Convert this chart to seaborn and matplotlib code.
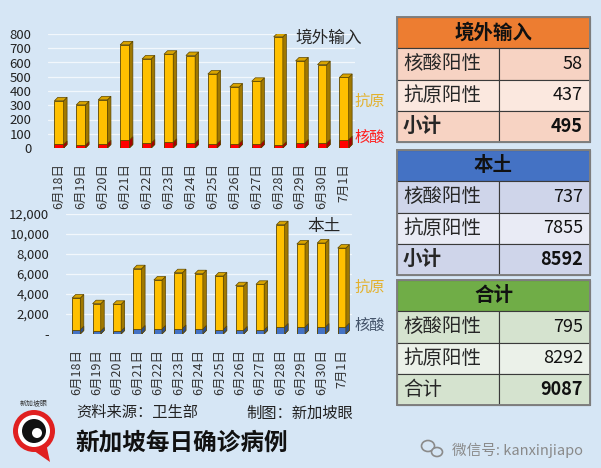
import numpy as np
import pandas as pd
import matplotlib.pyplot as plt
import seaborn as sns
from matplotlib.patches import Rectangle, Polygon, Circle, Ellipse

# =====================================================
# DATA
# =====================================================

dates = ["6月18日", "6月19日", "6月20日", "6月21日", "6月22日", "6月23日", "6月24日",
         "6月25日", "6月26日", "6月27日", "6月28日", "6月29日", "6月30日", "7月1日"]

# imported cases: total (antigen + PCR) and PCR part
import_total = [331, 303, 338, 724, 625, 658, 649, 519, 428, 468, 780, 611, 585, 495]
import_pcr = [25, 20, 30, 55, 35, 40, 35, 30, 30, 30, 20, 35, 35, 58]

# local cases
local_total = [3600, 3030, 2970, 6530, 5400, 6130, 6030, 5800, 4830, 4970, 10930, 9000, 9100, 8592]
local_pcr = [430, 300, 300, 500, 500, 550, 500, 450, 400, 400, 700, 700, 700, 737]

import_ticks = [0, 100, 200, 300, 400, 500, 600, 700, 800]
local_ticks = [0, 2000, 4000, 6000, 8000, 10000, 12000]
local_tick_labels = ["-", "2,000", "4,000", "6,000", "8,000", "10,000", "12,000"]

table_titles = ["境外输入", "本土", "合计"]
table_rows = [["核酸阳性", "抗原阳性", "小计"],
              ["核酸阳性", "抗原阳性", "小计"],
              ["核酸阳性", "抗原阳性", "合计"]]
import_table = [58, 437, 495]
local_table = [737, 7855, 8592]
total_table = [795, 8292, 9087]

# =====================================================
# STYLE
# =====================================================

sns.set_theme(style="white")
plt.rcParams["font.family"] = ["Noto Sans CJK SC", "DejaVu Sans"]

BG = "#d6e6f5"
W, H = 601, 468
fig = plt.figure(figsize=(W / 100, H / 100), dpi=100)
fig.patch.set_facecolor(BG)


def px_axes(left, top, right, bottom):
    return fig.add_axes([left / W, 1 - bottom / H, (right - left) / W, (bottom - top) / H])


def add_depth(ax, bars, side_color, top_color, edge, z, with_top=True, dpx=3.5):
    x0, x1 = ax.get_xlim()
    y0, y1 = ax.get_ylim()
    pos = ax.get_position()
    dx = (x1 - x0) * dpx / (pos.width * W)
    dy = (y1 - y0) * dpx / (pos.height * H)
    for p in bars:
        x, y, w, h = p.get_x(), p.get_y(), p.get_width(), p.get_height()
        ax.add_patch(Polygon([(x + w, y), (x + w + dx, y + dy), (x + w + dx, y + h + dy), (x + w, y + h)],
                             fc=side_color, ec=edge, lw=0.5, zorder=z))
        if with_top:
            ax.add_patch(Polygon([(x, y + h), (x + dx, y + h + dy), (x + w + dx, y + h + dy), (x + w, y + h)],
                                 fc=top_color, ec=edge, lw=0.5, zorder=z))


def bar_chart(ax, total, pcr, pcr_color, pcr_side, ticks, tick_labels, ylim, width):
    sns.barplot(x=dates, y=total, order=dates, color="#ffc000", saturation=1, width=width,
                edgecolor="#5c4600", linewidth=0.6, ax=ax, zorder=2)
    ybars = ax.containers[-1]
    sns.barplot(x=dates, y=pcr, order=dates, color=pcr_color, saturation=1, width=width,
                edgecolor="#5c4600", linewidth=0.6, ax=ax, zorder=4)
    pbars = ax.containers[-1]
    ax.set_xlim(-0.5, len(dates) - 0.5)
    ax.set_ylim(*ylim)
    add_depth(ax, ybars, "#a07800", "#d9a400", "#5c4600", 3)
    add_depth(ax, pbars, pcr_side, pcr_side, "#5c4600", 5, with_top=False)
    ax.set_facecolor("none")
    for s in ax.spines.values():
        s.set_visible(False)
    ax.set_yticks(ticks)
    ax.set_yticklabels(tick_labels, fontsize=9.5, color="#222222")
    ax.set_xticks(range(len(dates)))
    ax.set_xticklabels(dates, rotation=90, fontsize=9, color="#333333", va="top")
    ax.tick_params(axis="x", length=0, pad=11)
    ax.tick_params(axis="y", length=0)
    for t in ticks[1:]:
        ax.axhline(t, color="white", lw=0.9, alpha=0.7, zorder=1)
    ax.set_xlabel("")
    ax.set_ylabel("")


# =====================================================
# CHARTS
# =====================================================

ax1 = px_axes(48, 34, 355, 148)
bar_chart(ax1, import_total, import_pcr, "#ff0000", "#a80000",
          import_ticks, [str(t) for t in import_ticks], (0, 800), 0.42)
ax1.tick_params(axis="y", pad=12)

ax2 = px_axes(66, 214, 352, 334)
bar_chart(ax2, local_total, local_pcr, "#4472c4", "#2c4d8a",
          local_ticks, local_tick_labels, (0, 12000), 0.4)
ax2.tick_params(axis="y", pad=12)

# =====================================================
# OVERLAY: labels, tables, footer
# =====================================================

ov = fig.add_axes([0, 0, 1, 1])
ov.set_xlim(0, W)
ov.set_ylim(H, 0)
ov.axis("off")
ov.set_facecolor("none")

ov.text(329, 38, "境外输入", fontsize=12, color="#262626", ha="center", va="center")
ov.text(370, 101, "抗原", fontsize=11, color="#e3b12c", ha="center", va="center")
ov.text(370, 137, "核酸", fontsize=11, color="#ff2020", ha="center", va="center")
ov.text(324, 226, "本土", fontsize=12, color="#262626", ha="center", va="center")
ov.text(370, 287, "抗原", fontsize=11, color="#e3b12c", ha="center", va="center")
ov.text(370, 325, "核酸", fontsize=11, color="#44546a", ha="center", va="center")

# tables
tables = [
    (table_titles[0], table_rows[0], import_table, 17, "#ed7d31", ["#f7d3c3", "#fbe8df", "#f7d3c3"]),
    (table_titles[1], table_rows[1], local_table, 150, "#4472c4", ["#cfd5ea", "#e9ebf5", "#cfd5ea"]),
    (table_titles[2], table_rows[2], total_table, 280, "#70ad47", ["#d5e3cf", "#ebf1e9", "#d5e3cf"]),
]
tx0, tsplit, tx1 = 397, 499, 590
row_h = 31.3
for title, labels, values, top, head_color, row_colors in tables:
    ov.add_patch(Rectangle((tx0, top), tx1 - tx0, row_h, fc=head_color, ec="#3a3a3a", lw=0.8))
    ov.text((tx0 + tx1) / 2, top + row_h / 2, title, fontsize=14, fontweight="bold",
            color="#111111", ha="center", va="center")
    for i, (lab, val) in enumerate(zip(labels, values)):
        y = top + row_h * (i + 1)
        ov.add_patch(Rectangle((tx0, y), tsplit - tx0, row_h, fc=row_colors[i], ec="#3a3a3a", lw=0.8))
        ov.add_patch(Rectangle((tsplit, y), tx1 - tsplit, row_h, fc=row_colors[i], ec="#3a3a3a", lw=0.8))
        bold = i == 2 and lab == "小计"
        ov.text(tx0 + 6, y + row_h / 2, lab, fontsize=14, color="#262626",
                fontweight="bold" if bold else "normal", ha="left", va="center")
        ov.text(tx1 - 7, y + row_h / 2, str(val), fontsize=13, color="#111111",
                fontweight="bold" if i == 2 else "normal", ha="right", va="center")
    ov.add_patch(Rectangle((tx0, top), tx1 - tx0, row_h * 4, fc="none", ec="#7f7f7f", lw=1.4))

# logo
ov.add_patch(Polygon([(30, 448), (50, 462), (46, 443)], fc="#e02020", ec="none"))
ov.add_patch(Circle((34, 431), 21, fc="#e02020", ec="none"))
ov.add_patch(Circle((34, 431), 16, fc="white", ec="none"))
ov.add_patch(Circle((34, 431), 12, fc="#111111", ec="none"))
ov.add_patch(Circle((37, 433), 5, fc="white", ec="none"))
ov.text(34, 403, "新加坡眼", fontsize=5, color="#333333", ha="center", va="center")

# footer
ov.text(76, 413, "资料来源：卫生部", fontsize=11, color="#222222", ha="left", va="center")
ov.text(246, 413, "制图：新加坡眼", fontsize=11, color="#222222", ha="left", va="center")
ov.text(75, 443, "新加坡每日确诊病例", fontsize=17, fontweight="bold", color="#111111",
        ha="left", va="center")

# wechat mark
ov.add_patch(Ellipse((428, 446), 13, 11, fc="none", ec="#8a8a8a", lw=1.2))
ov.add_patch(Ellipse((437, 452), 11, 9, fc=BG, ec="#8a8a8a", lw=1.2))
ov.text(452, 450, "微信号: kanxinjiapo", fontsize=10.5, color="#8a8a8a", ha="left", va="center")

fig.savefig("out.png", dpi=100, facecolor=BG)
